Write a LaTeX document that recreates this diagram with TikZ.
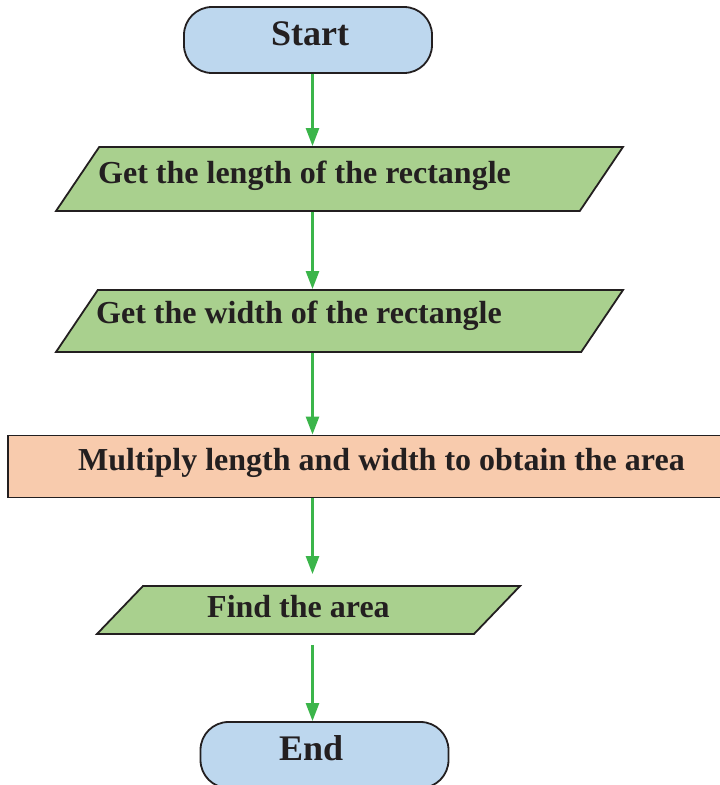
\documentclass[tikz,border=0pt]{standalone}
\usepackage{fontspec}
\setmainfont{Liberation Serif}
\usetikzlibrary{shapes.geometric,arrows.meta}
\definecolor{termblue}{RGB}{189,215,238}
\definecolor{iogreen}{RGB}{169,208,142}
\definecolor{procorange}{RGB}{248,203,173}
\definecolor{flowgreen}{RGB}{59,181,74}
\definecolor{ink}{RGB}{35,31,32}
\begin{document}
\begin{tikzpicture}[x=1pt,y=-1pt,
  term/.style={draw=ink,line width=1.8pt,fill=termblue,rounded corners=28pt,minimum width=248pt,minimum height=66pt,inner sep=0pt},
  io/.style={draw=ink,line width=1.8pt,fill=iogreen,trapezium},
  proc/.style={draw=ink,line width=1.8pt,fill=procorange,minimum width=745pt,minimum height=62pt,inner sep=0pt},
  txt/.style={anchor=base west,inner sep=0pt,text=ink,font=\bfseries\fontsize{32}{38}\selectfont},
  big/.style={txt,font=\bfseries\fontsize{36}{43}\selectfont},
  flow/.style={draw=flowgreen,line width=2.6pt,-{Triangle[length=18pt,width=13pt]}}]
\useasboundingbox (0,0) rectangle (720,785);
\clip (0,0) rectangle (720,785);
\coordinate (spine) at (312.5,0);
\node[term] (start) at (308,40) {};
\node[io,trapezium left angle=56,trapezium right angle=124,inner xsep=240.3pt,inner ysep=32pt] (len) at (339.5,179) {};
\node[io,trapezium left angle=56,trapezium right angle=124,inner xsep=241.7pt,inner ysep=31pt] (wid) at (339.5,321) {};
\node[proc] (mult) at (380.5,466.5) {};
\node[io,trapezium left angle=46.2,trapezium right angle=133.8,inner xsep=165.5pt,inner ysep=24pt] (area) at (308.5,610) {};
\node[term] (stop) at (324.5,755) {};
\node[big] (startlbl) at (271,45) {Start};
\node[txt] (lenlbl) at (98,183.5) {Get the length of the rectangle};
\node[txt] (widlbl) at (96,323) {Get the width of the rectangle};
\node[txt] (multlbl) at (78,470) {Multiply length and width to obtain the area};
\node[txt] (arealbl) at (207,617) {Find the area};
\node[big] (stoplbl) at (279,760) {End};
\draw[flow] (start.south -| spine) -- (len.north -| spine);
\draw[flow] (len.south -| spine) -- (wid.north -| spine);
\draw[flow] (wid.south -| spine) -- (mult.north -| spine);
\draw[flow,shorten >=11pt] (mult.south -| spine) -- (area.north -| spine);
\draw[flow,shorten <=10pt] (area.south -| spine) -- (stop.north -| spine);
\end{tikzpicture}
\end{document}
